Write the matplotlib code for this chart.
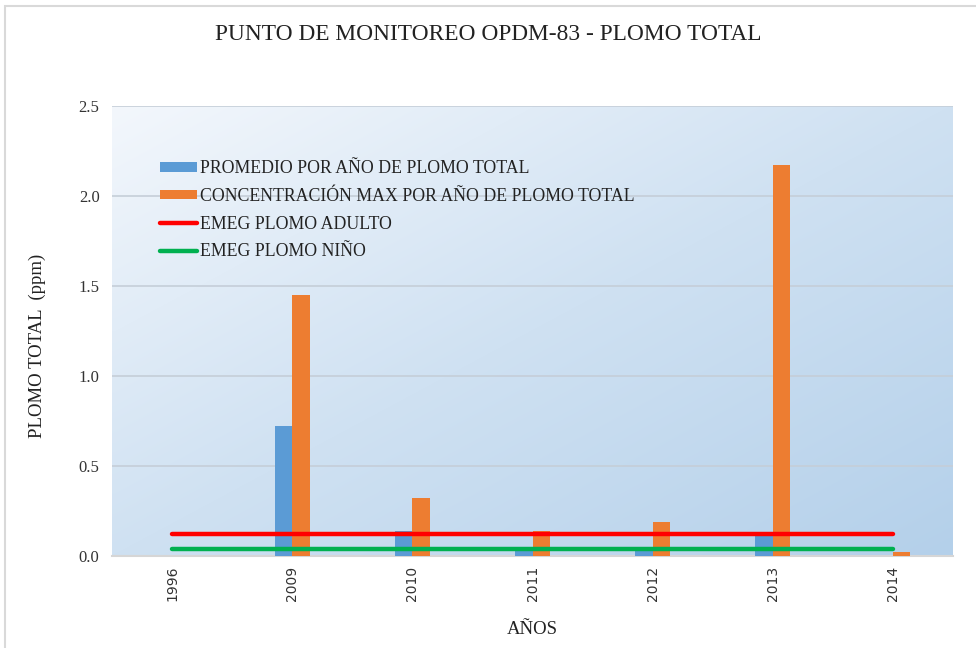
import matplotlib
matplotlib.use("Agg")
import matplotlib.pyplot as plt
import numpy as np
from matplotlib.patches import Patch, Rectangle
from matplotlib.lines import Line2D
from matplotlib.colors import LinearSegmentedColormap

years = ['1996', '2009', '2010', '2011', '2012', '2013', '2014']
promedio = [0.0, 0.72, 0.14, 0.03, 0.03, 0.11, 0.0]
maximo = [0.0, 1.45, 0.32, 0.14, 0.19, 2.17, 0.02]
emeg_adulto = 0.12
emeg_nino = 0.04

serif = 'Liberation Serif'

fig = plt.figure(figsize=(9.76, 6.48), dpi=100)
ax = fig.add_axes([112/976, 1 - 556/648, (953-112)/976, (556-105.7)/648])

# gradient background
cmap = LinearSegmentedColormap.from_list('g', ['#f3f7fc', '#cfe1f2', '#b4d0ea'])
nx, ny = 200, 200
xx, yy = np.meshgrid(np.linspace(0, 1, nx), np.linspace(0, 1, ny))
grad = (xx + yy) / 2
ax.imshow(grad, extent=[-0.5, 6.5, 0, 2.5], aspect='auto', cmap=cmap,
          origin='upper', zorder=0, interpolation='bicubic')

x = np.arange(len(years))
w = 0.145
ax.bar(x - w/2, promedio, w, color='#5b9bd5', zorder=3)
ax.bar(x + w/2, maximo, w, color='#ed7d31', zorder=3)
ax.plot([x[0], x[-1]], [emeg_adulto, emeg_adulto], color='#ff0000', lw=3.2,
        solid_capstyle='round', zorder=4)
ax.plot([x[0], x[-1]], [emeg_nino, emeg_nino], color='#00b050', lw=3.2,
        solid_capstyle='round', zorder=4)

ax.set_xlim(-0.5, 6.5)
ax.set_ylim(0, 2.5)
ax.set_yticks([0, 0.5, 1.0, 1.5, 2.0, 2.5])
ax.set_yticklabels(['0.0', '0.5', '1.0', '1.5', '2.0', '2.5'], fontfamily=serif,
                   fontsize=12, color='#333333')
ax.set_xticks(x)
ax.set_xticklabels(years, rotation=90, fontsize=10, color='#333333',
                   fontfamily='DejaVu Sans')
ax.tick_params(length=0)
ax.tick_params(axis='x', pad=7)
ax.tick_params(axis='y', pad=9)
ax.grid(axis='y', color='#c5ced8', lw=1.2, zorder=1)
for s in ['top', 'right', 'left']:
    ax.spines[s].set_visible(False)
ax.spines['bottom'].set_color('#d6d6d6')
ax.spines['bottom'].set_linewidth(1.5)

ax.set_ylabel('PLOMO TOTAL  (ppm)', fontfamily=serif, fontsize=13.5, color='#222222')
ax.yaxis.set_label_coords(-0.078, 0.467)
ax.set_xlabel('AÑOS', fontfamily=serif, fontsize=13.5, color='#222222')
ax.xaxis.set_label_coords(0.5, -0.145)

fig.text(0.5, 1 - 35/648, 'PUNTO DE MONITOREO OPDM-83 - PLOMO TOTAL',
         ha='center', va='center', fontfamily=serif, fontsize=16.8, color='#222222')

handles = [
    Patch(facecolor='#5b9bd5', label='PROMEDIO POR AÑO DE PLOMO TOTAL'),
    Patch(facecolor='#ed7d31', label='CONCENTRACIÓN MAX POR AÑO DE PLOMO TOTAL'),
    Line2D([0], [0], color='#ff0000', lw=3.2, solid_capstyle='round', label='EMEG PLOMO ADULTO'),
    Line2D([0], [0], color='#00b050', lw=3.2, solid_capstyle='round', label='EMEG PLOMO NIÑO'),
]
leg = ax.legend(handles=handles, loc='upper left', bbox_to_anchor=(0.057, 0.879),
                frameon=False, prop={'family': serif, 'size': 12.8},
                handlelength=2.1, handleheight=0.45, handletextpad=0.15,
                labelspacing=0.6, borderpad=0, borderaxespad=0)
for t in leg.get_texts():
    t.set_color('#222222')

fig.patches.append(Rectangle((5/976, -0.05), 1.2, 1 - 6/648 + 0.05,
                             transform=fig.transFigure, fill=False,
                             edgecolor='#d9d9d9', lw=1.5))

fig.savefig('out.png', dpi=100)
